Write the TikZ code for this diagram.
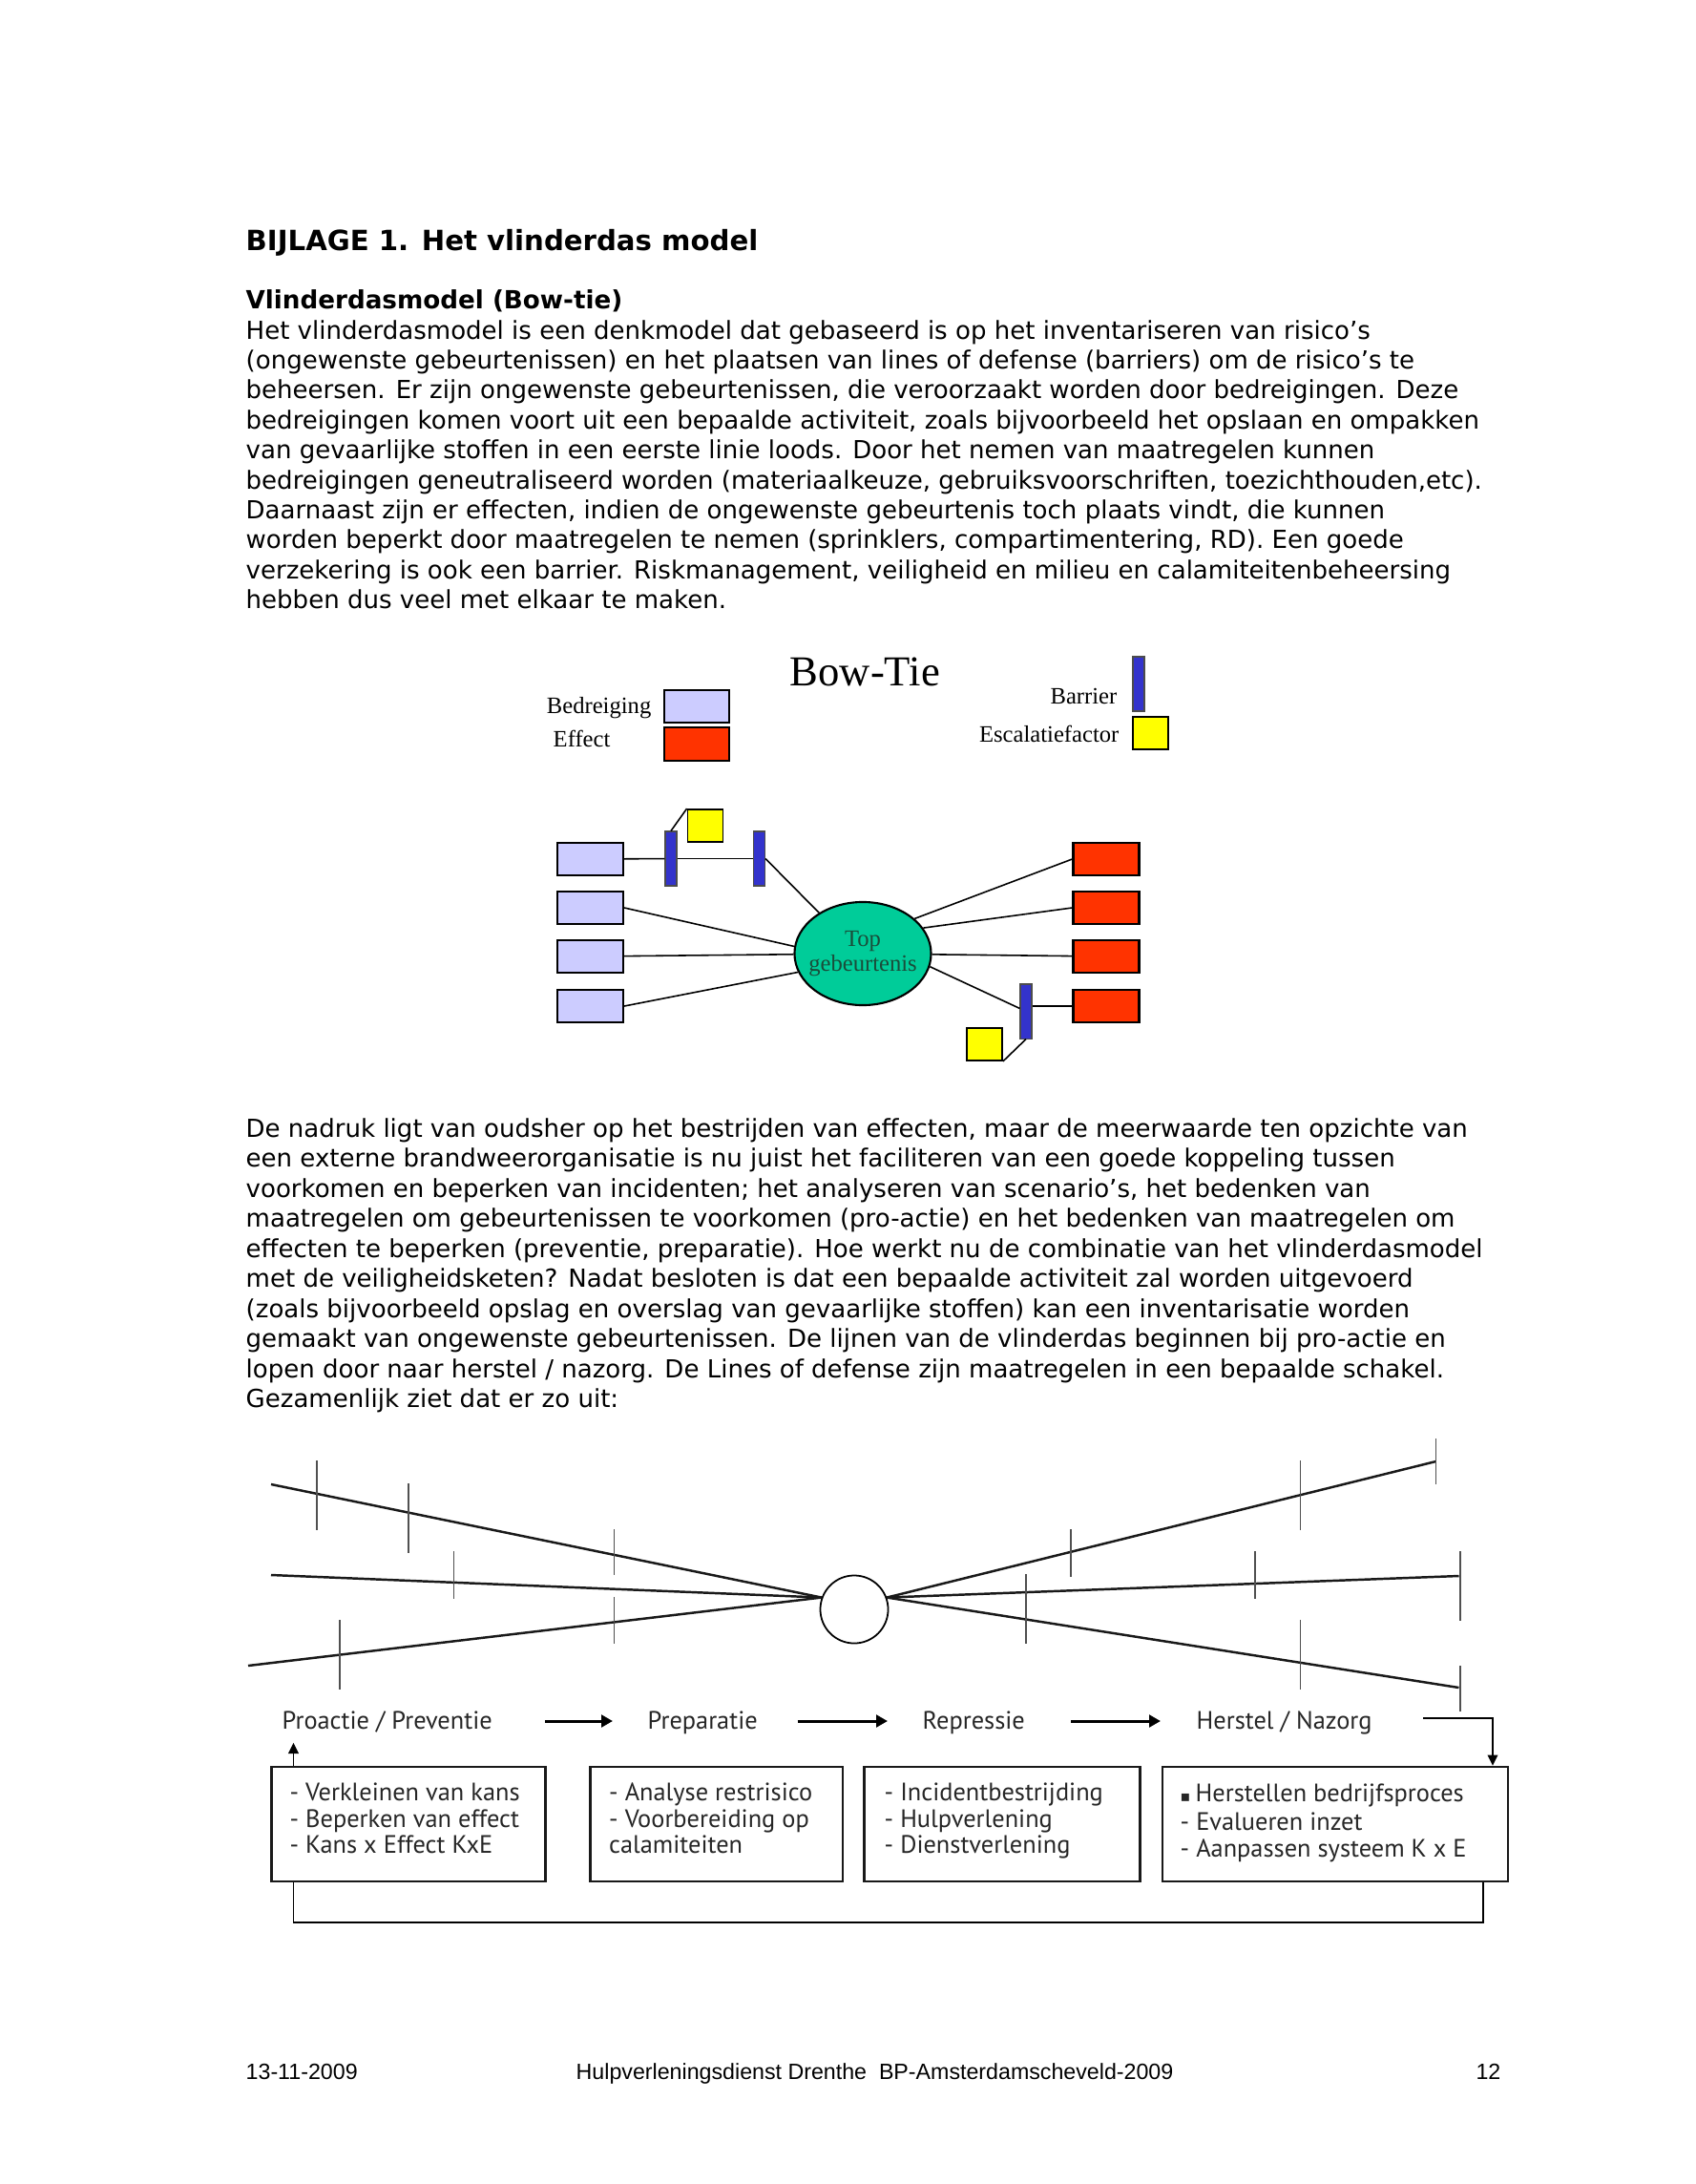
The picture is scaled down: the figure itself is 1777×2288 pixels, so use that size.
\documentclass[tikz,border=0pt]{standalone}
\usepackage{fontspec}
\setmainfont{DejaVu Sans}
\newfontfamily\btserif{Liberation Serif}
\newfontfamily\arialf{Liberation Sans}
\newfontfamily\gillf{PT Sans}
\newfontfamily\djv{DejaVu Sans}
\usetikzlibrary{shapes.geometric,arrows.meta}
\definecolor{threatcol}{HTML}{CCCCFF}
\definecolor{effectcol}{HTML}{FF3300}
\definecolor{barcol}{HTML}{3333CC}
\definecolor{esccol}{HTML}{FFFF00}
\definecolor{topcol}{HTML}{00CC99}
\definecolor{toptext}{HTML}{1A4D3A}
\definecolor{tickcol}{HTML}{505050}
\tikzset{
  bodytext/.style={anchor=base west, inner sep=0pt, font=\fontsize{7.4}{9}\selectfont},
  headtext/.style={anchor=base west, inner sep=0pt, font=\bfseries\fontsize{8.3}{10}\selectfont},
  subhead/.style={anchor=base west, inner sep=0pt, font=\bfseries\fontsize{7.45}{9}\selectfont},
  foottext/.style={anchor=base west, inner sep=0pt, font=\arialf\fontsize{6.6}{8}\selectfont},
  btlabel/.style={inner sep=0pt, font=\btserif\fontsize{7}{8}\selectfont},
  threatbox/.style={draw=black, line width=0.6pt, fill=threatcol, minimum width=0.69cm, minimum height=0.34cm, inner sep=0pt},
  effectbox/.style={draw=black, line width=0.6pt, fill=effectcol, minimum width=0.69cm, minimum height=0.34cm, inner sep=0pt},
  barrierbar/.style={draw=black!70, line width=0.3pt, fill=barcol, minimum width=0.12cm, minimum height=0.57cm, inner sep=0pt},
  escbox/.style={draw=black, line width=0.5pt, fill=esccol, minimum width=0.37cm, minimum height=0.34cm, inner sep=0pt},
  btlink/.style={line width=0.45pt, black},
  mainline/.style={line width=0.7pt, black!90},
  tickline/.style={line width=0.55pt, tickcol},
  phase/.style={anchor=base west, inner sep=0pt, font=\gillf\fontsize{7.5}{8}\selectfont, text=black!85},
  phasebox/.style={draw=black!90, line width=0.7pt, inner sep=0pt},
  flowarrow/.style={line width=0.85pt, -{Triangle[length=3.4pt,width=3.6pt]}},
  fbarrow/.style={line width=0.5pt, -{Triangle[length=3.2pt,width=3pt]}},
  fbline/.style={line width=0.5pt}
}
\begin{document}
\begin{tikzpicture}[x=0.01cm,y=-0.01cm]
\fill[white] (0,0) rectangle (1777,2288);
\useasboundingbox (0,0) rectangle (1777,2288);

% ---------- Heading and first paragraph ----------
\node[headtext] (title) at (257,262) {BIJLAGE 1. Het vlinderdas model};
\node[subhead] (sub) at (257,323) {Vlinderdasmodel (Bow-tie)};
\node[bodytext] (p1) at (257,355.0) {Het vlinderdasmodel is een denkmodel dat gebaseerd is op het inventariseren van risico’s};
\node[bodytext] (p2) at (257,386.4) {(ongewenste gebeurtenissen) en het plaatsen van lines of defense (barriers) om de risico’s te};
\node[bodytext] (p3) at (257,417.8) {beheersen. Er zijn ongewenste gebeurtenissen, die veroorzaakt worden door bedreigingen. Deze};
\node[bodytext] (p4) at (257,449.2) {bedreigingen komen voort uit een bepaalde activiteit, zoals bijvoorbeeld het opslaan en ompakken};
\node[bodytext] (p5) at (257,480.6) {van gevaarlijke stoffen in een eerste linie loods. Door het nemen van maatregelen kunnen};
\node[bodytext] (p6) at (257,512.0) {bedreigingen geneutraliseerd worden (materiaalkeuze, gebruiksvoorschriften, toezichthouden,etc).};
\node[bodytext] (p7) at (257,543.4) {Daarnaast zijn er effecten, indien de ongewenste gebeurtenis toch plaats vindt, die kunnen};
\node[bodytext] (p8) at (257,574.8) {worden beperkt door maatregelen te nemen (sprinklers, compartimentering, RD). Een goede};
\node[bodytext] (p9) at (257,606.2) {verzekering is ook een barrier. Riskmanagement, veiligheid en milieu en calamiteitenbeheersing};
\node[bodytext] (p10) at (257,637.6) {hebben dus veel met elkaar te maken.};

% ---------- Bow-tie diagram ----------
\node[anchor=base west, inner sep=0pt, font=\btserif\fontsize{12.7}{14}\selectfont] (bowtitle) at (827,718) {Bow-Tie};
\node[btlabel, anchor=base east] (lbedr) at (683,747) {Bedreiging};
\node[btlabel, anchor=base west] (leff) at (579,782) {Effect};
\node[threatbox, minimum width=0.68cm] (legthreat) at (730,740) {};
\node[effectbox, minimum width=0.68cm, minimum height=0.35cm] (legeffect) at (730,779.5) {};
\node[btlabel, anchor=base east] (lbar) at (1171,737) {Barrier};
\node[btlabel, anchor=base east] (lesc) at (1173,777) {Escalatiefactor};
\node[barrierbar] (legbar) at (1193,716.5) {};
\node[escbox, minimum width=0.37cm] (legesc) at (1205.5,768) {};

\node[threatbox] (b1) at (618.5,900) {};
\node[threatbox] (b2) at (618.5,951) {};
\node[threatbox] (b3) at (618.5,1002) {};
\node[threatbox] (b4) at (618.5,1054) {};
\node[effectbox] (e1) at (1159,900) {};
\node[effectbox] (e2) at (1159,951) {};
\node[effectbox] (e3) at (1159,1002) {};
\node[effectbox] (e4) at (1159,1054) {};
\node[barrierbar] (bar1) at (703,899.5) {};
\node[barrierbar] (bar2) at (795.5,899.5) {};
\node[barrierbar] (bar3) at (1075,1059.5) {};
\node[escbox] (y1) at (739,865) {};
\node[escbox] (y2) at (1031.5,1094) {};
\node[ellipse, draw=black, line width=0.6pt, fill=topcol, minimum width=1.43cm, minimum height=1.08cm, inner sep=0pt] (top) at (904,999) {};
\node[align=center, inner sep=0pt, text=toptext, font=\btserif\fontsize{7}{7.2}\selectfont] (toplabel) at (top.center) {Top\\gebeurtenis};

\draw[btlink] (b1) -- (bar1);
\draw[btlink] (bar1) -- (bar2);
\draw[btlink] (bar1.north) -- (y1.north west);
\draw[btlink] (bar2.east) -- (top.137);
\draw[btlink] (b2.east) -- (top.174);
\draw[btlink] (b3) -- (top);
\draw[btlink] (b4.east) -- (top.196);
\draw[btlink] (top.34) -- (e1.west);
\draw[btlink] (top.23) -- (e2.west);
\draw[btlink] (top) -- (e3);
\draw[btlink] (top.-11) -- (bar3);
\draw[btlink] (bar3.east |- e4.west) -- (e4.west);
\draw[btlink] (y2.south east) -- (bar3.south);

% ---------- Second paragraph ----------
\node[bodytext] (q1) at (257,1191.0) {De nadruk ligt van oudsher op het bestrijden van effecten, maar de meerwaarde ten opzichte van};
\node[bodytext] (q2) at (257,1222.5) {een externe brandweerorganisatie is nu juist het faciliteren van een goede koppeling tussen};
\node[bodytext] (q3) at (257,1254.0) {voorkomen en beperken van incidenten; het analyseren van scenario’s, het bedenken van};
\node[bodytext] (q4) at (257,1285.5) {maatregelen om gebeurtenissen te voorkomen (pro-actie) en het bedenken van maatregelen om};
\node[bodytext] (q5) at (257,1317.0) {effecten te beperken (preventie, preparatie). Hoe werkt nu de combinatie van het vlinderdasmodel};
\node[bodytext] (q6) at (257,1348.5) {met de veiligheidsketen? Nadat besloten is dat een bepaalde activiteit zal worden uitgevoerd};
\node[bodytext] (q7) at (257,1380.0) {(zoals bijvoorbeeld opslag en overslag van gevaarlijke stoffen) kan een inventarisatie worden};
\node[bodytext] (q8) at (257,1411.5) {gemaakt van ongewenste gebeurtenissen. De lijnen van de vlinderdas beginnen bij pro-actie en};
\node[bodytext] (q9) at (257,1443.0) {lopen door naar herstel / nazorg. De Lines of defense zijn maatregelen in een bepaalde schakel.};
\node[bodytext] (q10) at (257,1474.5) {Gezamenlijk ziet dat er zo uit:};

% ---------- Safety chain bow-tie ----------
\node[circle, draw=black, line width=0.5pt, minimum size=0.71cm, inner sep=0pt] (hub) at (895,1686) {};
\coordinate (LA) at (284,1555);
\coordinate (LB) at (284,1650);
\coordinate (LC) at (260,1745);
\coordinate (RA) at (1504.5,1531);
\coordinate (RB) at (1528.5,1651);
\coordinate (RC) at (1528.5,1768);
\draw[mainline] (LA) -- (hub.160);
\draw[mainline] (LB) -- (hub.160);
\draw[mainline] (LC) -- (hub.160);
\draw[mainline] (hub.20) -- (RA);
\draw[mainline] (hub.20) -- (RB);
\draw[mainline] (hub.20) -- (RC);
% barriers (lines of defense)
\draw[tickline] (332,1530) -- (332,1603);
\draw[tickline] (428,1554) -- (428,1627);
\draw[tickline] (643.5,1602) -- (643.5,1650);
\draw[tickline] (475.5,1625) -- (475.5,1675);
\draw[tickline] (643.5,1673) -- (643.5,1722);
\draw[tickline] (356,1697) -- (356,1770);
\draw[tickline] (1122,1602) -- (1122,1652);
\draw[tickline] (1362.5,1530) -- (1362.5,1603);
\draw[tickline] (1504.5,1507) -- (1504.5,1555);
\draw[tickline] (1075,1649) -- (1075,1722);
\draw[tickline] (1315,1625) -- (1315,1675);
\draw[tickline] (1530,1625) -- (1530,1698);
\draw[tickline] (1362.5,1697) -- (1362.5,1770);
\draw[tickline] (1530,1745) -- (1530,1793);

% phase labels
\node[phase] (ph1) at (295,1811) {Proactie / Preventie};
\node[phase] (ph2) at (678,1811) {Preparatie};
\node[phase] (ph3) at (966,1811) {Repressie};
\node[phase] (ph4) at (1253,1811) {Herstel / Nazorg};
\coordinate (a1s) at (571,1803); \coordinate (a1e) at (642,1803);
\coordinate (a2s) at (835.5,1803); \coordinate (a2e) at (930,1803);
\coordinate (a3s) at (1122,1803); \coordinate (a3e) at (1216,1803);
\draw[flowarrow] (a1s) -- (a1e);
\draw[flowarrow] (a2s) -- (a2e);
\draw[flowarrow] (a3s) -- (a3e);

% phase boxes
\node[phasebox, minimum width=2.87cm, minimum height=1.20cm] (box1) at (428,1911) {};
\node[phasebox, minimum width=2.645cm, minimum height=1.20cm] (box2) at (750.8,1911) {};
\node[phasebox, minimum width=2.885cm, minimum height=1.20cm] (box3) at (1050,1911) {};
\node[phasebox, minimum width=3.62cm, minimum height=1.20cm] (box4) at (1399,1911) {};

\node[phase] (t11) at (303,1886) {- Verkleinen van kans};
\node[phase] (t12) at (303,1914) {- Beperken van effect};
\node[phase] (t13) at (303,1941) {- Kans x Effect KxE};
\node[phase] (t21) at (637.5,1886) {- Analyse restrisico};
\node[phase] (t22) at (637.5,1914) {- Voorbereiding op};
\node[phase] (t23) at (637.5,1941) {calamiteiten};
\node[phase] (t31) at (926,1886) {- Incidentbestrijding};
\node[phase] (t32) at (926,1914) {- Hulpverlening};
\node[phase] (t33) at (926,1941) {- Dienstverlening};
\node[phase] (t41) at (1236,1887) {{\djv\fontsize{4.5}{6}\selectfont ▪}\hspace{0.2em}Herstellen bedrijfsproces};
\node[phase] (t42) at (1236,1917) {- Evalueren inzet};
\node[phase] (t43) at (1236,1945) {- Aanpassen systeem K x E};

% feedback connectors
\coordinate (fl) at (307.5,0);
\coordinate (fr) at (1554,0);
\coordinate (dn) at (1564,0);
\coordinate (brk) at (1491,1800);
\draw[fbarrow] (box1.north -| fl) -- ++(0,-24);
\draw[fbarrow] (brk) -| (box4.north -| dn);
\draw[fbline] (box4.south -| fr) -- ++(0,42) -| (box1.south -| fl);

% ---------- Footer ----------
\node[foottext] (fdate) at (257,2178) {13-11-2009};
\node[foottext] (ftitle) at (603,2178) {Hulpverleningsdienst Drenthe~~BP-Amsterdamscheveld-2009};
\node[foottext, anchor=base east] (fpage) at (1573,2178) {12};
\end{tikzpicture}
\end{document}
